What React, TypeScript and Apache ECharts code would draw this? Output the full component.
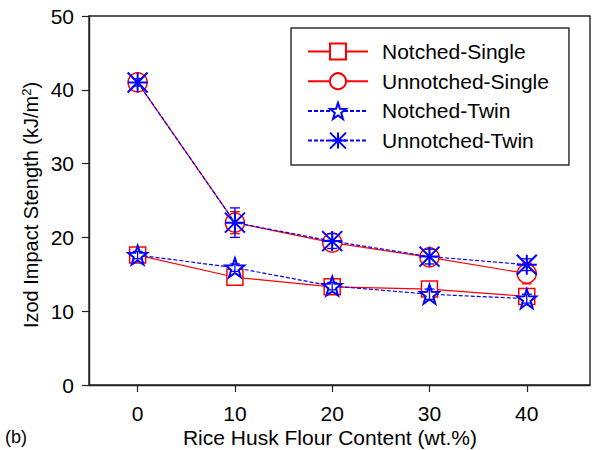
import React, { useEffect, useRef } from "react";
import * as echarts from "echarts";

const xValues = [0, 10, 20, 30, 40];
const notchedSingle = [17.6, 14.6, 13.3, 13.0, 12.0];
const unnotchedSingle = [41.0, 22.0, 19.3, 17.3, 15.1];
const notchedTwin = [17.6, 15.9, 13.4, 12.3, 11.7];
const unnotchedTwin = [41.0, 22.0, 19.5, 17.4, 16.3];
const notchedSingleErr = [0.5, 0.9, 0.5, 0.5, 0.5];
const unnotchedSingleErr = [0.5, 1.5, 0.8, 0.9, 1.4];
const notchedTwinErr = [0.5, 0.5, 0.5, 0.7, 0.6];
const unnotchedTwinErr = [0.5, 2.0, 1.0, 1.0, 0.8];
const xTicks = [0, 10, 20, 30, 40];

const RED = "#ff0000";
const BLUE = "#0000ff";
const FONT = "Liberation Sans, Arial, Helvetica, sans-serif";

const STAR =
  "path://M0,-10 L2.35,-3.24 L9.51,-3.09 L3.8,1.24 L5.88,8.09 L0,4.1 L-5.88,8.09 L-3.8,1.24 L-9.51,-3.09 L-2.35,-3.24 Z";
const ASTER = "path://M0,-10 L0,10 M-10,0 L10,0 M-10,-10 L10,10 M-10,10 L10,-10";

function pairs(ys: number[]) {
  return xValues.map((x, i) => [x, ys[i]]);
}
function errData(ys: number[], es: number[]) {
  return xValues.map((x, i) => [x, ys[i], es[i]]);
}

function errSeries(ys: number[], es: number[], color: string, z: number) {
  return {
    type: "custom",
    z,
    silent: true,
    data: errData(ys, es),
    renderItem: (params: any, api: any) => {
      const x = api.value(0);
      const y = api.value(1);
      const e = api.value(2);
      const top = api.coord([x, y + e]);
      const bot = api.coord([x, y - e]);
      const hw = 5;
      const st = { stroke: color, lineWidth: 1.3 };
      return {
        type: "group",
        children: [
          { type: "line", shape: { x1: top[0], y1: top[1], x2: bot[0], y2: bot[1] }, style: st },
          { type: "line", shape: { x1: top[0] - hw, y1: top[1], x2: top[0] + hw, y2: top[1] }, style: st },
          { type: "line", shape: { x1: bot[0] - hw, y1: bot[1], x2: bot[0] + hw, y2: bot[1] }, style: st },
        ],
      };
    },
  };
}

export default function App() {
  const ref = useRef<HTMLDivElement>(null);
  useEffect(() => {
    if (!ref.current) return;
    const chart = echarts.init(ref.current, undefined, { renderer: "svg" });
    chart.setOption({
      animation: false,
      backgroundColor: "#ffffff",
      textStyle: { fontFamily: FONT },
      grid: { left: 89, right: 7, top: 16, bottom: 65, show: true, borderColor: "#222", borderWidth: 1.4 },
      xAxis: {
        type: "value",
        min: -5,
        max: 46.5,
        splitLine: { show: false },
        axisLine: { show: true, onZero: false, lineStyle: { color: "#222", width: 1.4 } },
        axisTick: { show: true, customValues: xTicks, length: 7, inside: false, lineStyle: { color: "#222", width: 1.2 } },
        axisLabel: { customValues: xTicks, color: "#000", fontSize: 21, margin: 18, fontFamily: FONT },
      },
      yAxis: {
        type: "value",
        min: 0,
        max: 50,
        interval: 10,
        splitLine: { show: false },
        axisLine: { show: true, onZero: false, lineStyle: { color: "#222", width: 1.4 } },
        axisTick: { show: true, length: 7, inside: false, lineStyle: { color: "#222", width: 1.2 } },
        axisLabel: { color: "#000", fontSize: 21, margin: 15, fontFamily: FONT },
      },
      legend: {
        left: 291,
        top: 28,
        orient: "vertical",
        itemWidth: 60,
        itemHeight: 20,
        itemGap: 8.7,
        padding: [13, 20, 14, 16],
        borderColor: "#333",
        borderWidth: 1.5,
        backgroundColor: "#fff",
        textStyle: { fontSize: 21, color: "#000", fontFamily: FONT, padding: [0, 0, 0, 9] },
        data: ["Notched-Single", "Unnotched-Single", "Notched-Twin", "Unnotched-Twin"],
      },
      graphic: [
        {
          type: "text",
          x: 330,
          y: 437,
          style: {
            text: "Rice Husk Flour Content (wt.%)",
            font: `21px ${FONT}`,
            fill: "#000",
            align: "center",
            verticalAlign: "middle",
          },
        },
        {
          type: "text",
          x: 31,
          y: 205,
          rotation: Math.PI / 2,
          style: {
            text: "Izod Impact Stength (kJ/m{sup|2})",
            font: `20px ${FONT}`,
            fill: "#000",
            align: "center",
            verticalAlign: "middle",
            rich: {
              sup: { fontSize: 13, fontFamily: FONT, verticalAlign: "top", padding: [0, 0, 10, 0] },
            },
          },
        },
        {
          type: "text",
          x: 5,
          y: 437,
          style: { text: "(b)", font: `18px ${FONT}`, fill: "#000", align: "left", verticalAlign: "middle" },
        },
      ],
      series: [
        {
          name: "Notched-Single",
          type: "line",
          z: 2,
          data: pairs(notchedSingle),
          symbol: "rect",
          symbolSize: 16,
          lineStyle: { color: RED, width: 1.2, type: "solid" },
          itemStyle: { color: "#fff", borderColor: RED, borderWidth: 1.5 },
        },
        {
          name: "Unnotched-Single",
          type: "line",
          z: 2,
          data: pairs(unnotchedSingle),
          symbol: "circle",
          symbolSize: 19,
          lineStyle: { color: RED, width: 1.2, type: "solid" },
          itemStyle: { color: "#fff", borderColor: RED, borderWidth: 1.5 },
        },
        {
          name: "Notched-Twin",
          type: "line",
          z: 3,
          data: pairs(notchedTwin),
          symbol: STAR,
          symbolSize: 19,
          lineStyle: { color: BLUE, width: 1.2, type: [4, 2] },
          itemStyle: { color: "#fff", borderColor: BLUE, borderWidth: 2 },
        },
        {
          name: "Unnotched-Twin",
          type: "line",
          z: 3,
          data: pairs(unnotchedTwin),
          symbol: ASTER,
          symbolSize: 20,
          lineStyle: { color: BLUE, width: 1.2, type: [4, 2] },
          itemStyle: { color: "transparent", borderColor: BLUE, borderWidth: 2 },
        },
        errSeries(notchedSingle, notchedSingleErr, RED, 1),
        errSeries(unnotchedSingle, unnotchedSingleErr, RED, 1),
        errSeries(notchedTwin, notchedTwinErr, BLUE, 4),
        errSeries(unnotchedTwin, unnotchedTwinErr, BLUE, 4),
      ],
    });
    return () => chart.dispose();
  }, []);
  return <div ref={ref} style={{ position: "fixed", left: 0, top: 0, width: 597, height: 450 }} />;
}
